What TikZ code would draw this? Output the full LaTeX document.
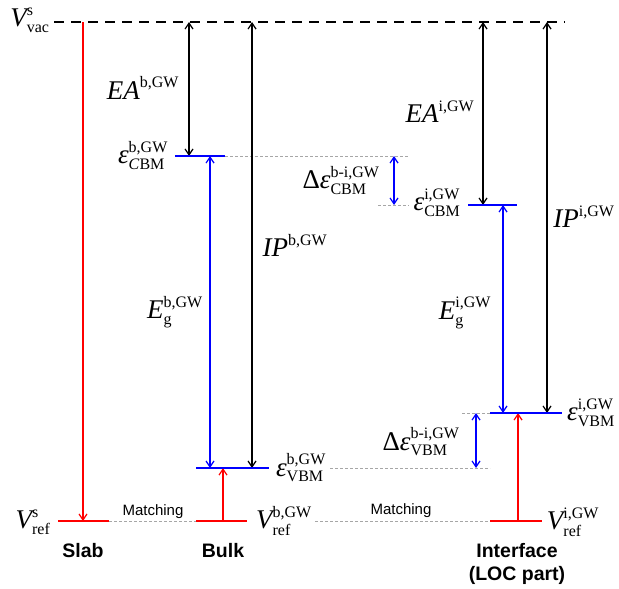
\documentclass[tikz,border=0pt]{standalone}
\usepackage{amsmath}
\usepackage{fontspec}
\setmainfont{Liberation Serif}
\newfontfamily\arialf{Liberation Sans}
\usetikzlibrary{arrows.meta}
\DeclareMathSizes{27}{27}{16}{12}
\newcommand\mylbl[3]{$#1^{\text{#2}}_{\text{#3}}$}
\begin{document}
\begin{tikzpicture}[x=1pt,y=-1pt,
  >={Straight Barb[length=6pt,width=8pt]},
  lvlred/.style={red, line width=2pt},
  lvlblue/.style={blue, line width=2pt},
  arr/.style={line width=1.2pt},
  guide/.style={gray!70, line width=0.6pt, dash pattern=on 3pt off 2pt},
  vacline/.style={black, line width=1.8pt, dash pattern=on 10pt off 7pt},
  mlab/.style={font=\fontsize{27}{32}\selectfont, inner sep=0pt},
  tlab/.style={font=\arialf\fontsize{15}{18}\selectfont, inner sep=0pt},
  blab/.style={font=\arialf\bfseries\fontsize{19.5}{23}\selectfont, inner sep=0pt, align=center}]
\useasboundingbox (0,0) rectangle (619,589);

% coordinates
\coordinate (vacL) at (54,22);   \coordinate (vacR) at (565,22);
\coordinate (sV) at (83,22);     \coordinate (sR) at (83,521);
\coordinate (sRL) at (58,521);   \coordinate (sRR) at (109,521);
\coordinate (bRL) at (196,521);  \coordinate (bRR) at (247,521);
\coordinate (bRa) at (223,521);  \coordinate (bVa) at (223,468);
\coordinate (bVL) at (196,468);  \coordinate (bVR) at (269,468);
\coordinate (bCL) at (175,156);  \coordinate (bCR) at (225,156);
\coordinate (eaV) at (189,22);   \coordinate (eaC) at (189,156);
\coordinate (ipV) at (252,22);   \coordinate (ipB) at (252,468);
\coordinate (egC) at (210,156);  \coordinate (egV) at (210,468);
\coordinate (iCL) at (468,205);  \coordinate (iCR) at (517,205);
\coordinate (ieaV) at (483,22);  \coordinate (ieaC) at (483,205);
\coordinate (iipV) at (547,22);  \coordinate (iipB) at (547,413);
\coordinate (iVL) at (490,413);  \coordinate (iVR) at (562,413);
\coordinate (iegC) at (503,205); \coordinate (iegV) at (503,413);
\coordinate (dcT) at (394,156);  \coordinate (dcB) at (394,205);
\coordinate (dvT) at (476,413);  \coordinate (dvB) at (476,468);
\coordinate (iRL) at (490,521);  \coordinate (iRR) at (542,521);
\coordinate (iRa) at (518,521);  \coordinate (iVa) at (518,413);
\coordinate (g1a) at (225,156);  \coordinate (g1b) at (409,156);
\coordinate (g2a) at (378,205);  \coordinate (g2b) at (409,205);
\coordinate (g3a) at (330,468);  \coordinate (g3b) at (490,468);
\coordinate (g4a) at (315,521);  \coordinate (g4b) at (490,521);
\coordinate (g5a) at (462,413);  \coordinate (g5b) at (490,413);

% guides
\draw[guide] (sRR) -- (bRL);
\draw[guide] (g1a) -- (g1b);
\draw[guide] (g2a) -- (g2b);
\draw[guide] (g3a) -- (g3b);
\draw[guide] (g4a) -- (g4b);
\draw[guide] (g5a) -- (g5b);

% vacuum
\draw[vacline] (vacL) -- (vacR);

% arrows
\draw[arr, red, ->] (sV) -- (sR);
\draw[arr, red, ->] (bRa) -- (bVa);
\draw[arr, red, ->] (iRa) -- (iVa);
\draw[arr, <->] (eaV) -- (eaC);
\draw[arr, <->] (ipV) -- (ipB);
\draw[arr, <->] (ieaV) -- (ieaC);
\draw[arr, <->] (iipV) -- (iipB);
\draw[arr, blue, <->] (egC) -- (egV);
\draw[arr, blue, <->] (iegC) -- (iegV);
\draw[arr, blue, <->] (dcT) -- (dcB);
\draw[arr, blue, <->] (dvT) -- (dvB);

% levels
\draw[lvlred] (sRL) -- (sRR);
\draw[lvlred] (bRL) -- (bRR);
\draw[lvlred] (iRL) -- (iRR);
\draw[lvlblue] (bVL) -- (bVR);
\draw[lvlblue] (bCL) -- (bCR);
\draw[lvlblue] (iCL) -- (iCR);
\draw[lvlblue] (iVL) -- (iVR);

% math labels
\node[mlab] (lvac) at (30,20) {\mylbl{\textit{V}}{s}{vac}};
\node[mlab] (lea) at (143,88) {$\textit{EA}^{\text{b,GW}}$};
\node[mlab] (lcb) at (143,156) {\mylbl{\textit{ε}}{b,GW}{\textit{C}BM}};
\node[mlab] (ldc) at (341,181) {\mylbl{\text{Δ}\textit{ε}}{b-i,GW}{CBM}};
\node[mlab] (lci) at (437,203) {\mylbl{\textit{ε}}{i,GW}{CBM}};
\node[mlab] (leai) at (440,112) {$\textit{EA}^{\text{i,GW}}$};
\node[mlab] (lipi) at (584,217) {$\textit{IP}^{\text{i,GW}}$};
\node[mlab] (lipb) at (295,245) {$\textit{IP}^{\text{b,GW}}$};
\node[mlab] (legb) at (175,312) {\mylbl{\textit{E}}{b,GW}{g}};
\node[mlab] (legi) at (465,313) {\mylbl{\textit{E}}{i,GW}{g}};
\node[mlab] (lvb) at (301,468) {\mylbl{\textit{ε}}{b,GW}{VBM}};
\node[mlab] (lrb) at (284,521) {\mylbl{\textit{V}}{b,GW}{ref}};
\node[mlab] (lrs) at (33,522) {\mylbl{\textit{V}}{s}{ref}};
\node[mlab] (ldv) at (421,442) {\mylbl{\text{Δ}\textit{ε}}{b-i,GW}{VBM}};
\node[mlab] (lvi) at (591,413) {\mylbl{\textit{ε}}{i,GW}{VBM}};
\node[mlab] (lri) at (573,522) {\mylbl{\textit{V}}{i,GW}{ref}};

% text labels
\node[tlab] (m1) at (153,512) {Matching};
\node[tlab] (m2) at (401,511) {Matching};
\node[blab] (slab) at (83,551) {Slab};
\node[blab] (bulk) at (223,551) {Bulk};
\node[blab] (intf) at (517,564) {Interface\\(LOC part)};
\end{tikzpicture}
\end{document}
